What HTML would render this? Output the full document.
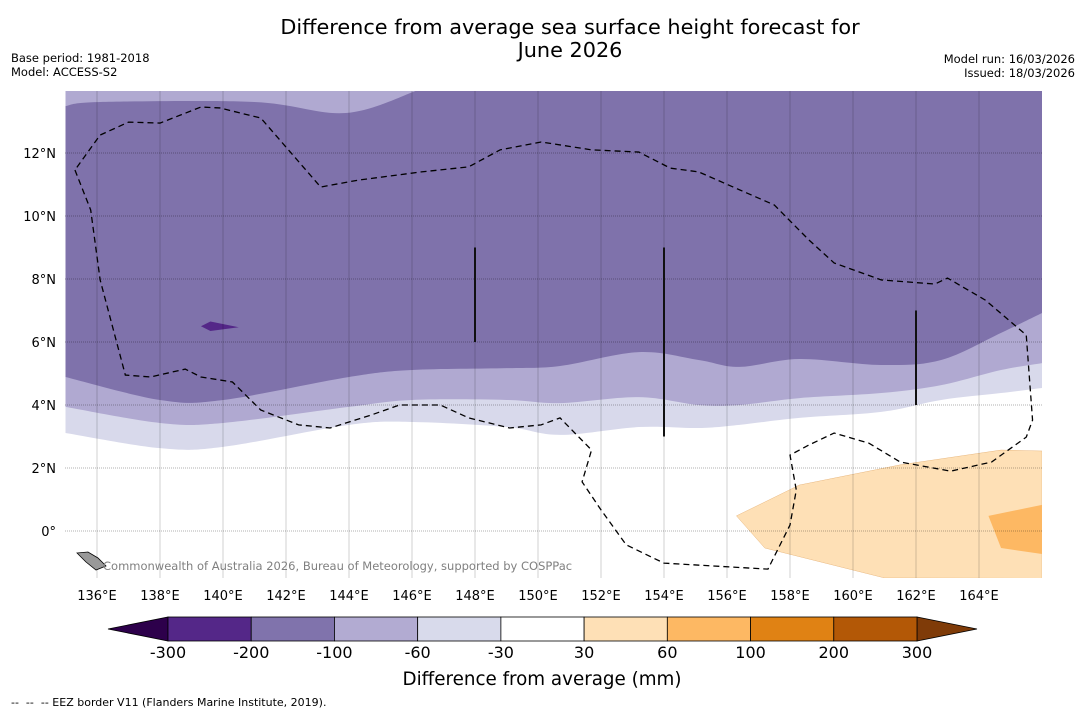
<!DOCTYPE html>
<html><head><meta charset="utf-8"><style>
body{margin:0;background:#fff;font-family:"Liberation Sans",sans-serif;}
svg text{font-family:"DejaVu Sans","Liberation Sans",sans-serif;}
</style></head><body>
<svg id="c" width="1085" height="713" xmlns="http://www.w3.org/2000/svg">
<text x="570" y="34" font-size="20.8" text-anchor="middle">Difference from average sea surface height forecast for</text>
<text x="570" y="57" font-size="20.8" text-anchor="middle">June 2026</text>
<text x="11" y="62" font-size="11.5">Base period: 1981-2018</text>
<text x="11" y="76" font-size="11.5">Model: ACCESS-S2</text>
<text x="1075" y="63" font-size="11.5" text-anchor="end">Model run: 16/03/2026</text>
<text x="1075" y="77" font-size="11.5" text-anchor="end">Issued: 18/03/2026</text>
<g id="map"></g>
<g id="cbar"></g>
<text x="542" y="685" font-size="18.3" text-anchor="middle">Difference from average (mm)</text>
<text x="11" y="706" font-size="11" xml:space="preserve" style="white-space:pre">--  --  -- EEZ border V11 (Flanders Marine Institute, 2019).</text>
</svg>
<script>
const NS="http://www.w3.org/2000/svg";
const bandLons=[135,138,140,144,146,149,150.7,153.2,155.1,156.4,158.3,160.9,162.8,164.7,166];
const b200=[4.89,4.16,4.16,4.89,5.11,5.17,5.24,5.68,5.43,5.21,5.46,5.27,5.43,6.29,6.92];
const b100=[3.94,3.43,3.43,3.94,4.16,4.16,4.06,4.25,4.0,4.0,4.22,4.38,4.63,5.11,5.33];
const b60=[3.11,2.63,2.67,3.37,3.46,3.30,3.05,3.30,3.27,3.37,3.59,3.78,4.16,4.38,4.54];
const topLons=[135,136.1,141,143.9,146.2];
const topLats=[13.49,13.62,13.62,13.27,14];
const pos30=[[156.3,0.48],[157.2,-0.54],[161.0,-1.49],[166,-1.5],[166,2.54],[164.7,2.57],[161.5,2.10],[158.3,1.46]];
const pos60=[[164.3,0.48],[164.7,-0.54],[166,-0.73],[166,0.83]];
const neg200patch=[[139.3,6.5],[139.6,6.65],[140.5,6.47],[139.6,6.35]];
const eez=[[135.3,11.46],[135.8,10.19],[136.1,7.97],[136.9,4.95],[137.7,4.89],[138.8,5.14],[139.3,4.89],[140.3,4.73],[141.2,3.84],[142.4,3.37],[143.4,3.27],[144.7,3.68],[145.6,4.0],[146.9,4.0],[147.8,3.59],[149.1,3.27],[150.1,3.37],[150.7,3.59],[151.7,2.57],[151.4,1.56],[152.0,0.67],[152.8,-0.44],[154.0,-1.02],[157.3,-1.21],[158.0,0.19],[158.2,1.30],[158.0,2.41],[158.6,2.73],[159.4,3.11],[160.5,2.79],[161.5,2.19],[163.1,1.90],[164.4,2.19],[165.5,2.98],[165.7,3.52],[165.5,6.22],[164.2,7.33],[163.0,8.03],[162.6,7.84],[160.9,7.97],[159.4,8.51],[158.6,9.24],[157.5,10.35],[156.4,10.83],[155.1,11.40],[154.2,11.52],[153.2,12.03],[151.7,12.10],[150.1,12.35],[148.8,12.10],[147.8,11.56],[146.3,11.40],[144.3,11.14],[143.1,10.92],[141.2,13.11],[139.9,13.43],[139.3,13.46],[138.0,12.95],[137.0,12.98],[136.1,12.57],[135.3,11.46]];
const vLines=[[148,9,6],[154,9,3],[162,7,4]];
const lonTicks=[136,138,140,142,144,146,148,150,152,154,156,158,160,162,164];
const latTicks=[0,2,4,6,8,10,12];
const cbLabels=["-300","-200","-100","-60","-30","30","60","100","200","300"];
const cbColors=["#542788","#8073ac","#b2abd2","#d8daeb","#ffffff","#fee0b6","#fdb863","#e08214","#b35806"];
const X0=65.5,Y0=531,S=31.5,LON0=135;
const sx=l=>X0+(l-LON0)*S, sy=l=>Y0-l*S;
const map=document.getElementById('map');
function mk(tag,at,parent){const e=document.createElementNS(NS,tag);for(const k in at)e.setAttribute(k,at[k]);(parent||map).appendChild(e);return e;}
function smooth(pts){let d='';for(let i=0;i<pts.length-1;i++){const p0=pts[Math.max(i-1,0)],p1=pts[i],p2=pts[i+1],p3=pts[Math.min(i+2,pts.length-1)];
const c1=[p1[0]+(p2[0]-p0[0])/6,p1[1]+(p2[1]-p0[1])/6],c2=[p2[0]-(p3[0]-p1[0])/6,p2[1]-(p3[1]-p1[1])/6];
d+=` C${c1[0]},${c1[1]} ${c2[0]},${c2[1]} ${p2[0]},${p2[1]}`;}return d;}
const clip=mk('clipPath',{id:'mc'});mk('rect',{x:65,y:91,width:977,height:487},clip);
const g=mk('g',{'clip-path':'url(#mc)'});
function bandPath(lats){const pts=bandLons.map((l,i)=>[sx(l),sy(lats[i])]);return `M${sx(LON0)},80 L${pts[0][0]},${pts[0][1]}`+smooth(pts)+` L${sx(166)},80Z`;}
function polyPath(pts){return 'M'+pts.map(p=>sx(p[0])+','+sy(p[1])).join(' L')+'Z';}
let e;
e=mk('rect',{x:65,y:91,width:977,height:487,fill:'#ffffff'},g);

e=mk('path',{d:bandPath(b60),fill:'#d8d9eb'},g);

e=mk('path',{d:bandPath(b100),fill:'#b0a9d1'},g);

e=mk('path',{d:bandPath(b200),fill:'#7f72ab'},g);

const tp=topLons.map((l,i)=>[sx(l),sy(topLats[i])]);
e=mk('path',{d:`M${sx(LON0)},80 L${tp[0][0]},${tp[0][1]}`+smooth(tp)+'Z',fill:'#b0a9d1'},g);

e=mk('path',{d:polyPath(pos30),fill:'#fee0b6',stroke:'#e8b880','stroke-width':0.5},g);

e=mk('path',{d:polyPath(pos60),fill:'#fdb863'},g);

e=mk('path',{d:polyPath(neg200patch),fill:'#542788'},g);

lonTicks.forEach(l=>{const ln=mk('line',{x1:sx(l),x2:sx(l),y1:91,y2:578,stroke:'#000','stroke-opacity':0.18,'stroke-width':1},g);

const t=mk('text',{x:sx(l),y:600,'font-size':13,'text-anchor':'middle'});t.textContent=l+'°E';
});
latTicks.forEach(l=>{const ln=mk('line',{x1:65,x2:1042,y1:sy(l),y2:sy(l),stroke:'#000','stroke-opacity':0.3,'stroke-width':1,'stroke-dasharray':'1,1'},g);

const t=mk('text',{x:56,y:sy(l)+5,'font-size':13,'text-anchor':'end'});t.textContent=l===0?'0°':l+'°N';
});
vLines.forEach(v=>{const ln=mk('line',{x1:sx(v[0]),x2:sx(v[0]),y1:sy(v[1]),y2:sy(v[2]),stroke:'#111','stroke-width':2},g);
});
e=mk('path',{d:'M'+eez.map(p=>sx(p[0])+','+sy(p[1])).join(' L'),fill:'none',stroke:'#000','stroke-width':1.3,'stroke-dasharray':'6,4'},g);

e=mk('path',{d:'M77,553 L88,552 L98,558 L106,566 L96,570 L86,562Z',fill:'#999',stroke:'#000','stroke-width':0.8},g);

e=mk('text',{x:103,y:570,'font-size':11.5,fill:'#808080'},g);e.textContent='Commonwealth of Australia 2026, Bureau of Meteorology, supported by COSPPac';

const cb=document.getElementById('cbar');
const cx0=168,cx1=917,cy=617,ch=24,bw=(cx1-cx0)/cbColors.length;
e=mk('polygon',{points:`${cx0},${cy} ${cx0},${cy+ch} 108,${cy+ch/2}`,fill:'#2d004b',stroke:'#000','stroke-width':0.8},cb);

e=mk('polygon',{points:`${cx1},${cy} ${cx1},${cy+ch} 977,${cy+ch/2}`,fill:'#7f3b08',stroke:'#000','stroke-width':0.8},cb);

cbColors.forEach((c,i)=>{const r=mk('rect',{x:cx0+i*bw,y:cy,width:bw,height:ch,fill:c,stroke:'#000','stroke-width':0.8},cb);
});
cbLabels.forEach((s,i)=>{const t=mk('text',{x:cx0+i*bw,y:658,'font-size':16,'text-anchor':'middle'},cb);t.textContent=s;
});
</script>
</body></html>
